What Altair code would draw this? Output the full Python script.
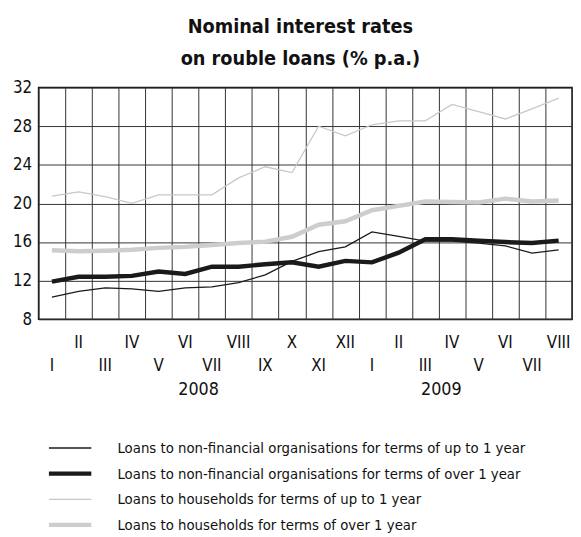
import altair as alt
import pandas as pd

FONT = "DejaVu Sans Condensed, Liberation Sans Narrow, sans-serif"

months = ["I", "II", "III", "IV", "V", "VI", "VII", "VIII", "IX", "X", "XI", "XII",
          "I", "II", "III", "IV", "V", "VI", "VII", "VIII"]
years = ["2008", "2009"]
year_pos = [6.5, 15.6]

series_names = [
    "Loans to non-financial organisations for terms of up to 1 year",
    "Loans to non-financial organisations for terms of over 1 year",
    "Loans to households for terms of up to 1 year",
    "Loans to households for terms of over 1 year",
]
nfo_short = [10.3, 10.9, 11.25, 11.15, 10.9, 11.25, 11.35, 11.8, 12.6, 14.0,
             15.0, 15.5, 17.05, 16.6, 16.1, 16.1, 15.9, 15.6, 14.85, 15.2]
nfo_long = [11.9, 12.4, 12.4, 12.5, 12.95, 12.7, 13.45, 13.45, 13.7, 13.9,
            13.45, 14.05, 13.9, 14.9, 16.3, 16.3, 16.15, 16.0, 15.9, 16.15]
hh_short = [20.75, 21.2, 20.7, 20.0, 20.9, 20.9, 20.9, 22.65, 23.8, 23.2,
            28.0, 27.0, 28.15, 28.55, 28.55, 30.25, 29.5, 28.75, 29.8, 30.9]
hh_long = [15.15, 15.05, 15.1, 15.2, 15.4, 15.5, 15.7, 15.9, 16.05, 16.55,
           17.8, 18.15, 19.3, 19.75, 20.2, 20.15, 20.1, 20.5, 20.2, 20.3]

all_series = [nfo_short, nfo_long, hh_short, hh_long]
rows = []
for si, (name, vals) in enumerate(zip(series_names, all_series)):
    for i, v in enumerate(vals):
        rows.append({"series": name, "order": si, "m": i + 1, "v": v})
df = pd.DataFrame(rows)

mdf = pd.DataFrame({"m": list(range(1, 21)), "label": months,
                    "row": ["top" if (i + 1) % 2 == 0 else "bottom" for i in range(20)]})
ydf = pd.DataFrame({"m": year_pos, "label": years})

xenc = alt.X("m:Q",
             scale=alt.Scale(domain=[0.5, 20.5], nice=False, zero=False),
             axis=alt.Axis(values=[0.5 + i for i in range(21)], labels=False, ticks=False,
                           domain=False, grid=True, gridColor="#333333", gridWidth=1,
                           gridOpacity=1, title=None))

colors = ["#1a1a1a", "#1a1a1a", "#c8c8c8", "#cdcdcd"]
widths = [1.3, 4.5, 1.3, 4.5]
leg = alt.Legend(title=None, orient="none", legendX=8, legendY=357, symbolType="stroke",
                 symbolSize=1849, labelFontSize=15, labelFont=FONT, labelColor="#111",
                 labelOffset=24, rowPadding=9, clipHeight=17, padding=0, labelLimit=600,
                 symbolOpacity=1)

lines = alt.Chart(df).mark_line(strokeCap="butt", strokeJoin="miter").encode(
    x=xenc,
    y=alt.Y("v:Q", scale=alt.Scale(domain=[8, 32], nice=False, zero=False),
            axis=alt.Axis(values=[8, 12, 16, 20, 24, 28, 32], ticks=False, domain=False,
                          labelPadding=7, labelFontSize=17, labelFont=FONT,
                          labelColor="#111", grid=True, gridColor="#333333",
                          gridOpacity=1, title=None)),
    color=alt.Color("series:N", sort=series_names,
                    scale=alt.Scale(type="ordinal", domain=series_names, range=colors),
                    legend=leg),
    strokeWidth=alt.StrokeWidth("series:N", sort=series_names,
                                scale=alt.Scale(type="ordinal", domain=series_names,
                                                range=widths),
                                legend=leg),
    order=alt.Order("m:Q"),
    detail="series:N",
)

mtop = alt.Chart(mdf).transform_filter("datum.row == 'top'").mark_text(
    fontSize=17, font=FONT, color="#111", baseline="middle").encode(
    x=xenc, y=alt.value(259), text="label:N")

mbot = alt.Chart(mdf).transform_filter("datum.row == 'bottom'").mark_text(
    fontSize=17, font=FONT, color="#111", baseline="middle").encode(
    x=xenc, y=alt.value(282), text="label:N")

ytext = alt.Chart(ydf).mark_text(fontSize=18, font=FONT, color="#111",
                                 baseline="middle").encode(
    x=xenc, y=alt.value(307), text="label:N")

chart = alt.layer(lines, mtop, mbot, ytext).properties(
    width=541, height=235,
    title=alt.TitleParams(["Nominal interest rates", "on rouble loans (% p.a.)"],
                          fontSize=20, fontWeight="bold", font=FONT, color="#111",
                          lineHeight=32, offset=10, anchor="middle", dx=-5),
    autosize=alt.AutoSizeParams(type="none"),
    padding={"left": 31, "top": 77, "right": 1, "bottom": 214},
).configure_view(stroke="#111", strokeWidth=1.5)

chart.save("out.html", embed_options={"renderer": "svg", "actions": False})
